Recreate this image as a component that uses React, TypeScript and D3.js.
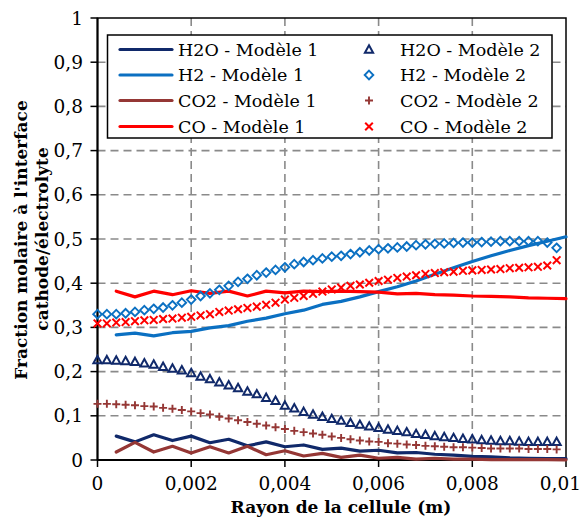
import React from "react";
import * as d3 from "d3";

const radius2 = [0, 0.0002, 0.0004, 0.0006, 0.0008, 0.001, 0.0012, 0.0014, 0.0016, 0.0018,
  0.002, 0.0022, 0.0024, 0.0026, 0.0028, 0.003, 0.0032, 0.0034, 0.0036, 0.0038,
  0.004, 0.0042, 0.0044, 0.0046, 0.0048, 0.005, 0.0052, 0.0054, 0.0056, 0.0058,
  0.006, 0.0062, 0.0064, 0.0066, 0.0068, 0.007, 0.0072, 0.0074, 0.0076, 0.0078,
  0.008, 0.0082, 0.0084, 0.0086, 0.0088, 0.009, 0.0092, 0.0094, 0.0096, 0.0098];

const radius1 = [0.0004, 0.0008, 0.0012, 0.0016, 0.002, 0.0024, 0.0028, 0.0032, 0.0036, 0.004,
  0.0044, 0.0048, 0.0052, 0.0056, 0.006, 0.0064, 0.0068, 0.0072, 0.0076, 0.008,
  0.0084, 0.0088, 0.0092, 0.0096, 0.01];

const h2oM2 = [0.226, 0.226, 0.225, 0.224, 0.222, 0.219, 0.216, 0.211, 0.207, 0.203,
  0.197, 0.189, 0.183, 0.176, 0.169, 0.163, 0.155, 0.149, 0.141, 0.134,
  0.123, 0.117, 0.109, 0.103, 0.098, 0.093, 0.089, 0.084, 0.080, 0.076,
  0.073, 0.069, 0.066, 0.063, 0.059, 0.057, 0.054, 0.052, 0.050, 0.048,
  0.047, 0.045, 0.044, 0.043, 0.043, 0.042, 0.041, 0.041, 0.041, 0.041];

const h2M2 = [0.330, 0.330, 0.330, 0.332, 0.335, 0.339, 0.342, 0.345, 0.350, 0.356,
  0.363, 0.371, 0.377, 0.385, 0.394, 0.403, 0.410, 0.418, 0.424, 0.430,
  0.436, 0.443, 0.448, 0.452, 0.456, 0.460, 0.462, 0.466, 0.470, 0.474,
  0.477, 0.479, 0.481, 0.483, 0.486, 0.488, 0.489, 0.490, 0.491, 0.492,
  0.492, 0.493, 0.494, 0.495, 0.495, 0.495, 0.495, 0.495, 0.492, 0.480];

const co2M2 = [0.127, 0.127, 0.126, 0.125, 0.124, 0.122, 0.121, 0.118, 0.116, 0.113,
  0.110, 0.106, 0.103, 0.098, 0.094, 0.090, 0.086, 0.082, 0.078, 0.074,
  0.070, 0.066, 0.063, 0.060, 0.057, 0.053, 0.050, 0.047, 0.044, 0.042,
  0.041, 0.038, 0.037, 0.035, 0.034, 0.032, 0.031, 0.030, 0.029, 0.029,
  0.028, 0.027, 0.026, 0.026, 0.026, 0.026, 0.025, 0.025, 0.025, 0.024];

const coM2 = [0.309, 0.309, 0.311, 0.312, 0.314, 0.316, 0.317, 0.319, 0.320, 0.322,
  0.324, 0.327, 0.330, 0.335, 0.338, 0.341, 0.344, 0.347, 0.351, 0.356,
  0.363, 0.367, 0.371, 0.376, 0.381, 0.386, 0.390, 0.394, 0.397, 0.401,
  0.405, 0.408, 0.412, 0.415, 0.418, 0.421, 0.423, 0.425, 0.426, 0.428,
  0.429, 0.430, 0.431, 0.432, 0.434, 0.435, 0.436, 0.437, 0.440, 0.452];

const h2M1 = [0.283, 0.287, 0.281, 0.288, 0.291, 0.299, 0.304, 0.314, 0.321, 0.331,
  0.339, 0.352, 0.359, 0.369, 0.381, 0.392, 0.405, 0.420, 0.435, 0.449,
  0.462, 0.474, 0.485, 0.495, 0.505];

const coM1 = [0.382, 0.369, 0.382, 0.374, 0.383, 0.377, 0.382, 0.371, 0.382, 0.378,
  0.382, 0.381, 0.382, 0.381, 0.380, 0.376, 0.377, 0.374, 0.373, 0.371,
  0.370, 0.369, 0.367, 0.366, 0.365];

const h2oM1 = [0.054, 0.041, 0.057, 0.044, 0.054, 0.039, 0.047, 0.032, 0.041, 0.030,
  0.034, 0.024, 0.027, 0.020, 0.022, 0.016, 0.017, 0.013, 0.011, 0.008,
  0.007, 0.005, 0.004, 0.003, 0.003];

const co2M1 = [0.018, 0.040, 0.018, 0.031, 0.016, 0.030, 0.016, 0.031, 0.012, 0.021,
  0.009, 0.015, 0.006, 0.011, 0.004, 0.006, 0.002, 0.004, 0.002, 0.002,
  0.001, 0.001, 0.001, 0.001, 0.0005];

const xTicks = [0, 0.002, 0.004, 0.006, 0.008, 0.01];
const xTickLabels = ["0", "0,002", "0,004", "0,006", "0,008", "0,01"];
const yTicks = [0, 0.1, 0.2, 0.3, 0.4, 0.5, 0.6, 0.7, 0.8, 0.9, 1];
const yTickLabels = ["0", "0,1", "0,2", "0,3", "0,4", "0,5", "0,6", "0,7", "0,8", "0,9", "1"];

const legendLines = ["H2O - Modèle 1", "H2 - Modèle 1", "CO2 - Modèle 1", "CO - Modèle 1"];
const legendMarkers = ["H2O - Modèle 2", "H2 - Modèle 2", "CO2 - Modèle 2", "CO - Modèle 2"];

const NAVY = "#10296a";
const BLUE = "#0b70c2";
const BROWN = "#953735";
const RED = "#ff0000";
const FONT = "'DejaVu Serif', serif";

const W = 582, H = 519;
const L = 97.5, R = 566, T = 18, B = 460;

type Shape = "tri" | "dia" | "plus" | "x";

function markerPath(shape: Shape): string {
  switch (shape) {
    case "tri": return "M0,-4.2L4.1,3.2L-4.1,3.2Z";
    case "dia": return "M0,-4.3L4.3,0L0,4.3L-4.3,0Z";
    case "plus": return "M-4,0H4M0,-4V4";
    case "x": return "M-3.8,-3.8L3.8,3.8M-3.8,3.8L3.8,-3.8";
  }
}

export default function App() {
  const x = d3.scaleLinear().domain([0, 0.01]).range([L, R]);
  const y = d3.scaleLinear().domain([0, 1]).range([B, T]);
  const line = d3.line<[number, number]>().x(d => x(d[0])).y(d => y(d[1]));

  const m1 = [
    { vals: h2oM1, color: NAVY },
    { vals: h2M1, color: BLUE },
    { vals: co2M1, color: BROWN },
    { vals: coM1, color: RED },
  ];
  const m2: { vals: number[]; color: string; shape: Shape; sw: number }[] = [
    { vals: h2oM2, color: NAVY, shape: "tri", sw: 2 },
    { vals: h2M2, color: BLUE, shape: "dia", sw: 1.9 },
    { vals: co2M2, color: BROWN, shape: "plus", sw: 1.9 },
    { vals: coM2, color: RED, shape: "x", sw: 2 },
  ];

  const legendRows = [49.5, 75, 100.5, 126.5];

  return (
    <svg width={W} height={H} style={{ position: "absolute", left: 0, top: 0, background: "#fff" }}
      fontFamily={FONT}>
      <rect x={0} y={0} width={W} height={H} fill="#fff" />
      {/* grid */}
      {yTicks.slice(1, -1).map(t => (
        <line key={"gy" + t} x1={L} x2={R} y1={y(t)} y2={y(t)} stroke="#8a8a8a" strokeWidth={1.6} strokeDasharray="8,5" />
      ))}
      {xTicks.slice(1, -1).map(t => (
        <line key={"gx" + t} y1={T} y2={B} x1={x(t)} x2={x(t)} stroke="#8a8a8a" strokeWidth={1.6} strokeDasharray="8,5" />
      ))}
      {/* plot border */}
      <rect x={L} y={T} width={R - L} height={B - T} fill="none" stroke="#000" strokeWidth={1.5} />
      {/* axes */}
      <line x1={L} x2={L} y1={T} y2={B} stroke="#000" strokeWidth={2} />
      <line x1={L} x2={R} y1={B} y2={B} stroke="#000" strokeWidth={2} />
      {yTicks.map(t => (
        <line key={"ty" + t} x1={L - 7} x2={L} y1={y(t)} y2={y(t)} stroke="#000" strokeWidth={1.5} />
      ))}
      {xTicks.map(t => (
        <line key={"tx" + t} x1={x(t)} x2={x(t)} y1={B} y2={B + 7} stroke="#000" strokeWidth={1.5} />
      ))}
      {yTicks.map((t, i) => (
        <text key={"ly" + t} x={83} y={y(t)} dy="0.36em" textAnchor="end" fontSize={18.5} fill="#000">{yTickLabels[i]}</text>
      ))}
      {xTicks.map((t, i) => (
        <text key={"lx" + t} x={i === xTicks.length - 1 ? 581 : x(t)} y={490}
          textAnchor={i === xTicks.length - 1 ? "end" : "middle"} fontSize={18.5} fill="#000">{xTickLabels[i]}</text>
      ))}
      {/* axis titles */}
      <text x={341} y={513} textAnchor="middle" fontSize={17} fontWeight="bold">Rayon de la cellule (m)</text>
      <text transform="translate(27,240) rotate(-90)" textAnchor="middle" fontSize={17} fontWeight="bold">Fraction molaire à l'interface</text>
      <text transform="translate(48,239) rotate(-90)" textAnchor="middle" fontSize={17} fontWeight="bold">cathode/électrolyte</text>

      {/* model 1 lines */}
      {m1.map((s, i) => (
        <path key={"m1" + i} d={line(radius1.map((r, j) => [r, s.vals[j]] as [number, number])) || ""}
          fill="none" stroke={s.color} strokeWidth={3.2} strokeLinejoin="round" strokeLinecap="round" />
      ))}
      {/* model 2 markers */}
      {m2.map((s, i) => (
        <g key={"m2" + i}>
          {radius2.map((r, j) => (
            <path key={j} transform={`translate(${x(r)},${y(s.vals[j])})`} d={markerPath(s.shape)}
              fill="none" stroke={s.color} strokeWidth={s.sw} />
          ))}
        </g>
      ))}

      {/* legend */}
      <rect x={107.5} y={35} width={444.5} height={103} fill="#fff" stroke="#000" strokeWidth={1.5} />
      {legendLines.map((t, i) => (
        <g key={"lg1" + i}>
          <line x1={120} x2={172} y1={legendRows[i]} y2={legendRows[i]} stroke={m1[i].color} strokeWidth={3.2} strokeLinecap="round" />
          <text x={178} y={legendRows[i]} dy="0.36em" fontSize={17.5}>{t}</text>
        </g>
      ))}
      {legendMarkers.map((t, i) => (
        <g key={"lg2" + i}>
          <path transform={`translate(369,${legendRows[i]})`} d={markerPath(m2[i].shape)} fill="none" stroke={m2[i].color} strokeWidth={m2[i].sw} />
          <text x={400} y={legendRows[i]} dy="0.36em" fontSize={17.5}>{t}</text>
        </g>
      ))}
    </svg>
  );
}
